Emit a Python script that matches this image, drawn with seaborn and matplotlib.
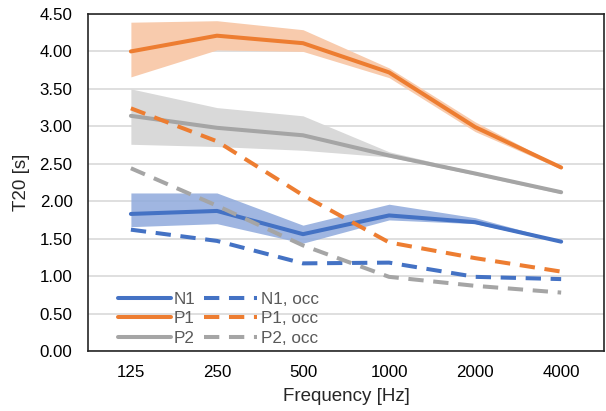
import seaborn as sns
import matplotlib.pyplot as plt
import pandas as pd

sns.set_theme(style="white")
plt.rcParams['font.family'] = ['Liberation Sans', 'DejaVu Sans']

freqs = ["125", "250", "500", "1000", "2000", "4000"]

# mean T20 values
n1 = [1.83, 1.87, 1.56, 1.81, 1.72, 1.46]
p1 = [4.00, 4.21, 4.11, 3.72, 2.99, 2.45]
p2 = [3.14, 2.98, 2.88, 2.61, 2.37, 2.12]
n1_occ = [1.62, 1.47, 1.17, 1.18, 0.99, 0.96]
p1_occ = [3.24, 2.80, 2.08, 1.45, 1.24, 1.06]
p2_occ = [2.44, 1.94, 1.41, 0.99, 0.87, 0.78]

# spread bands (min / max)
n1_lo = [1.66, 1.70, 1.44, 1.75, 1.70, 1.45]
n1_hi = [2.11, 2.11, 1.68, 1.96, 1.78, 1.47]
p1_lo = [3.66, 4.02, 4.00, 3.65, 2.93, 2.43]
p1_hi = [4.39, 4.41, 4.29, 3.78, 3.06, 2.46]
p2_lo = [2.76, 2.73, 2.68, 2.59, 2.35, 2.10]
p2_hi = [3.50, 3.25, 3.14, 2.66, 2.39, 2.14]

blue = "#4472C4"
orange = "#ED7D31"
grey = "#A5A5A5"

fig, ax = plt.subplots(figsize=(6.06, 4.11), dpi=100)
fig.subplots_adjust(left=0.145, right=0.997, top=0.966, bottom=0.146)

x = list(range(len(freqs)))
ax.fill_between(x, p1_lo, p1_hi, color="#F8CBAD", lw=0, zorder=1)
ax.fill_between(x, p2_lo, p2_hi, color="#D9D9D9", lw=0, zorder=1)
ax.fill_between(x, n1_lo, n1_hi, color="#8FAADC", alpha=0.85, lw=0, zorder=1)

series = [
    ("N1", n1, blue, "-"),
    ("P1", p1, orange, "-"),
    ("P2", p2, grey, "-"),
    ("N1, occ", n1_occ, blue, "--"),
    ("P1, occ", p1_occ, orange, "--"),
    ("P2, occ", p2_occ, grey, "--"),
]

for name, vals, col, ls in series:
    df = pd.DataFrame({"Frequency": freqs, "T20": vals})
    sns.lineplot(data=df, x="Frequency", y="T20", color=col, lw=2.9,
                 label=name, ax=ax, zorder=3, sort=False)
    l = ax.lines[-1]
    l.set_solid_capstyle("round")
    if ls == "--":
        l.set_dashes((3.8, 2.4))
        l.set_dash_capstyle("butt")

ax.set_xlim(-0.5, 5.5)
ax.set_ylim(0, 4.5)
ax.set_yticks([i * 0.5 for i in range(10)])
ax.set_yticklabels([f"{i * 0.5:.2f}" for i in range(10)])
ax.yaxis.grid(True, color="#D9D9D9", lw=1.2)
ax.xaxis.grid(False)
ax.set_axisbelow(True)
for s in ax.spines.values():
    s.set_color("#262626")
    s.set_linewidth(1.2)
ax.tick_params(axis="both", labelsize=12.2, colors="black", length=0)
ax.tick_params(axis="y", pad=11)
ax.tick_params(axis="x", pad=10)
ax.set_xlabel("Frequency [Hz]", fontsize=13.5, labelpad=6)
ax.set_ylabel("T20 [s]", fontsize=13.5, labelpad=7)

leg = ax.legend(ncol=2, loc="lower left", bbox_to_anchor=(0.028, -0.03),
                frameon=False, fontsize=12.3, handlelength=3.1,
                columnspacing=0.5, labelspacing=0.25, handletextpad=0.2)
for t in leg.get_texts():
    t.set_color("#595959")

plt.savefig("out.png", dpi=100)
